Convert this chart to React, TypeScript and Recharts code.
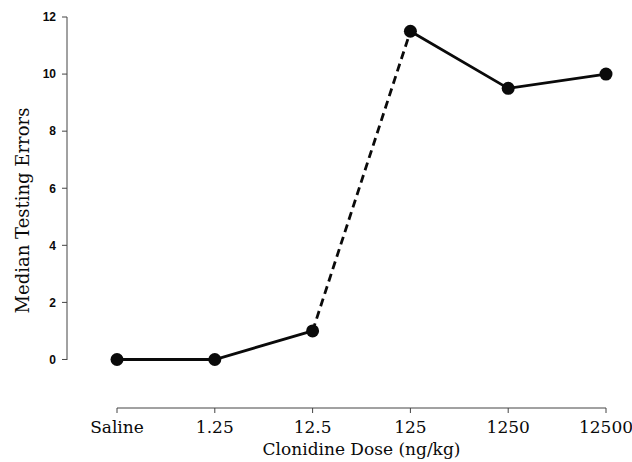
import React from 'react';
import { LineChart, Line, XAxis, YAxis } from 'recharts';

const doses = ['Saline', '1.25', '12.5', '125', '1250', '12500'];
const lowDoseErrors = [0, 0, 1, null, null, null];
const jumpErrors = [null, null, 1, 11.5, null, null];
const highDoseErrors = [null, null, null, 11.5, 9.5, 10];
const yTicks = [0, 2, 4, 6, 8, 10, 12];

const data = doses.map((dose, i) => ({
  dose,
  low: lowDoseErrors[i],
  jump: jumpErrors[i],
  high: highDoseErrors[i],
}));

const SERIF = '"DejaVu Serif", serif';
const INK = '#0a0a0a';

const YTitle = ({ viewBox }: any) => {
  const cx = 22;
  const cy = viewBox.y + viewBox.height / 2 - 2;
  return (
    <text
      x={cx}
      y={cy}
      transform={`rotate(-90 ${cx} ${cy})`}
      textAnchor="middle"
      dominantBaseline="central"
      fontFamily={SERIF}
      fontSize={18}
      fill={INK}
    >
      Median Testing Errors
    </text>
  );
};

const XTitle = ({ viewBox }: any) => {
  const cx = viewBox.x + 50 + (viewBox.width - 50) / 2;
  return (
    <text x={cx} y={455} textAnchor="middle" fontFamily={SERIF} fontSize={17} fill={INK}>
      Clonidine Dose (ng/kg)
    </text>
  );
};

export default function App() {
  return (
    <div style={{ width: 632, height: 462, background: '#fff' }}>
      <style>{'body{margin:0}'}</style>
      <LineChart width={632} height={462} data={data} margin={{ top: 17, right: 26, bottom: 0, left: 0 }}>
        <XAxis
          dataKey="dose"
          padding={{ left: 50, right: 0 }}
          height={54}
          tickSize={5}
          tickMargin={8}
          interval={0}
          axisLine={{ stroke: '#444', strokeDasharray: '0 50 489 1000' }}
          tickLine={{ stroke: '#444' }}
          tick={{ fontFamily: SERIF, fontSize: 17, fill: INK }}
          label={<XTitle />}
        />
        <YAxis
          width={67}
          type="number"
          domain={[-1.7, 12]}
          ticks={yTicks}
          allowDataOverflow
          tickSize={5}
          tickMargin={6}
          axisLine={{ stroke: '#444', strokeDasharray: '343 1000' }}
          tickLine={{ stroke: '#444' }}
          tick={{ fontFamily: '"Liberation Sans", sans-serif', fontSize: 12, fontWeight: 'bold', fill: INK }}
          label={<YTitle />}
        />
        <Line
          dataKey="jump"
          stroke={INK}
          strokeWidth={2.8}
          strokeDasharray="8 5"
          dot={false}
          activeDot={false}
          isAnimationActive={false}
        />
        <Line
          dataKey="low"
          stroke={INK}
          strokeWidth={2.8}
          dot={{ r: 6.5, fill: INK, stroke: INK, strokeWidth: 0 }}
          activeDot={false}
          isAnimationActive={false}
        />
        <Line
          dataKey="high"
          stroke={INK}
          strokeWidth={2.8}
          dot={{ r: 6.5, fill: INK, stroke: INK, strokeWidth: 0 }}
          activeDot={false}
          isAnimationActive={false}
        />
      </LineChart>
    </div>
  );
}
